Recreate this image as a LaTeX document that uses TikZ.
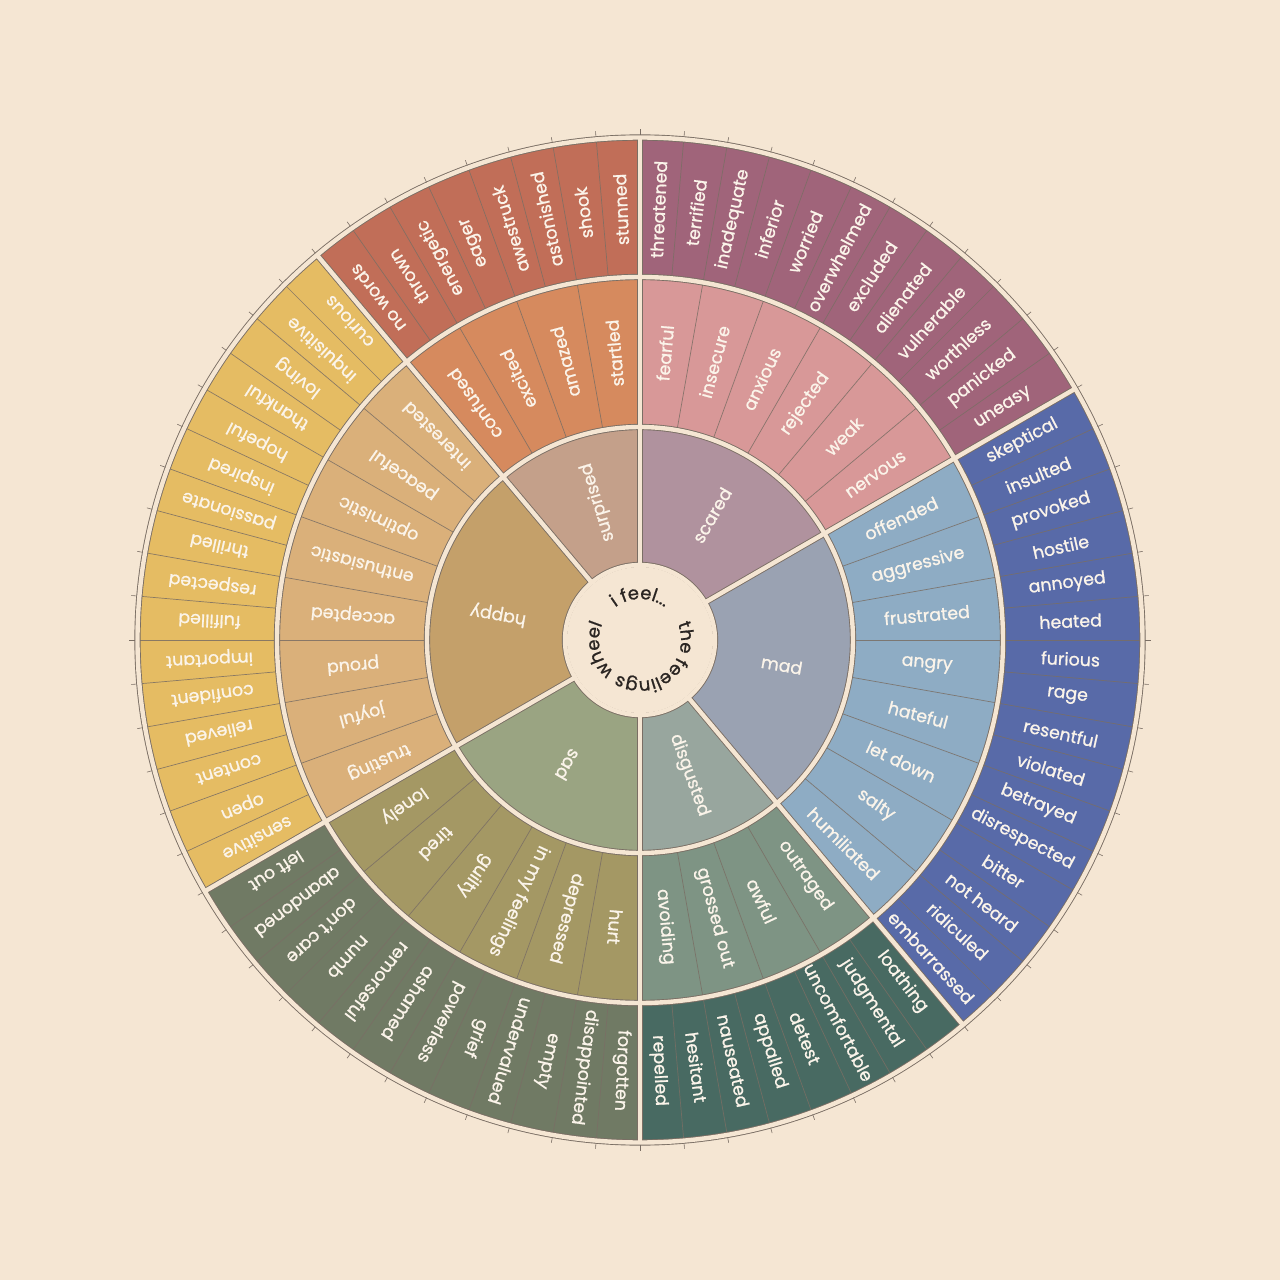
\documentclass[tikz,border=0pt]{standalone}
\usepackage{fontspec}
\setmainfont{Poppins}
\newfontfamily\lblfont{Poppins}[FakeBold=1.0]
\usetikzlibrary{decorations.text}
\definecolor{bg}{HTML}{F5E6D3}
\definecolor{edge}{HTML}{7A6E64}
\definecolor{lab}{HTML}{FBF4EA}
\definecolor{ink}{HTML}{2A2522}
% core / middle / outer colours
\definecolor{suC}{HTML}{C4A08A}\definecolor{suM}{HTML}{D68A5E}\definecolor{suO}{HTML}{C16E58}
\definecolor{scC}{HTML}{B0929E}\definecolor{scM}{HTML}{D89898}\definecolor{scO}{HTML}{A0647A}
\definecolor{maC}{HTML}{9AA2B2}\definecolor{maM}{HTML}{8EACC4}\definecolor{maO}{HTML}{586AA8}
\definecolor{diC}{HTML}{98A69E}\definecolor{diM}{HTML}{7E9484}\definecolor{diO}{HTML}{486A62}
\definecolor{saC}{HTML}{9AA482}\definecolor{saM}{HTML}{A49864}\definecolor{saO}{HTML}{707A64}
\definecolor{haC}{HTML}{C4A06A}\definecolor{haM}{HTML}{DAB07A}\definecolor{haO}{HTML}{E5BC63}
\newcommand\wsect[5]{\fill[#5] (#1:#3) arc[start angle=#1, end angle=#2, radius=#3] -- (#2:#4) arc[start angle=#2, end angle=#1, radius=#4] -- cycle;}
\newcommand\wcat[3]{% start, end, prefix of colours
  \wsect{#1}{#2}{75}{213}{#3C}\wsect{#1}{#2}{213}{363}{#3M}\wsect{#1}{#2}{363}{502.5}{#3O}}
\newcommand\ctext{\fontsize{9}{10}\selectfont\lblfont\color{ink}}
\tikzset{
  lbl/.style={text=lab, font=\fontsize{8.7}{10}\selectfont\lblfont, inner sep=0pt},
  sepline/.style={draw=edge, line width=0.35pt, opacity=0.85},
  gapdark/.style={draw=edge, line width=3.1pt},
  gaplight/.style={draw=bg, line width=2.2pt},
  tickmark/.style={draw=edge, line width=0.3pt}
}
\begin{document}
\begin{tikzpicture}[x=0.5pt,y=0.5pt]
\fill[bg] (-640,-640) rectangle (640,640);
\useasboundingbox (-640,-640) rectangle (640,640);
% sectors
\wcat{90}{130}{su}
\wcat{30}{90}{sc}
\wcat{-50}{30}{ma}
\wcat{-90}{-50}{di}
\wcat{-150}{-90}{sa}
\wcat{130}{210}{ha}
% item separators
\foreach \a in {0,5,...,355} \draw[sepline] (\a:363) -- (\a:502.5);
\foreach \a in {0,10,...,350} \draw[sepline] (\a:213) -- (\a:363);
% gaps: dark edges first
\foreach \a in {90,30,-50,-90,-150,130} \draw[gapdark] (\a:75) -- (\a:502.5);
\foreach \r in {75,213,363,502.5} \draw[gapdark] (0,0) circle[radius=\r];
\foreach \a in {90,30,-50,-90,-150,130} \draw[gaplight] (\a:75) -- (\a:502.5);
\foreach \r in {75,213,363,502.5} \draw[gaplight] (0,0) circle[radius=\r];
\fill[bg] (0,0) circle[radius=73];
% ticks
\foreach \a in {0,5,...,355} \draw[tickmark] (\a:505) -- (\a:510.5);
% centre
\node[inner sep=0pt] (centre) at (0,0) {};
\path[decorate, decoration={text along path, text={|\ctext|i feel...}, text align=center}]
  (170:41) arc[start angle=170, end angle=10, radius=41];
\path[decorate, decoration={text along path, text={|\ctext|the feelings wheel}, text align=center}]
  (35:41) arc[start angle=35, end angle=-215, radius=41];
% core labels
\foreach \a/\t in {107/surprised, 60/scared, -10/mad, -70/disgusted, -120/sad, 170/happy}
  \node[lbl, rotate=\a] (core\t) at (\a:144) {\t};
% middle labels
\foreach \a/\t [count=\i] in {85/fearful, 75/insecure, 65/anxious, 55/rejected, 45/weak, 35/nervous,
  25/offended, 15/aggressive, 5/frustrated, -5/angry, -15/hateful, -25/let down, -35/salty, -45/humiliated,
  -55/outraged, -65/awful, -75/grossed out, -85/avoiding,
  -95/hurt, -105/depressed, -115/in my feelings, -125/guilty, -135/tired, -145/lonely,
  205/trusting, 195/joyful, 185/proud, 175/accepted, 165/enthusiastic, 155/optimistic, 145/peaceful, 135/interested,
  125/confused, 115/excited, 105/amazed, 95/startled}
  \node[lbl, rotate=\a] (mid\i) at (\a:288) {\t};
% outer labels
\foreach \a/\t [count=\i] in {87.5/threatened, 82.5/terrified, 77.5/inadequate, 72.5/inferior, 67.5/worried,
  62.5/overwhelmed, 57.5/excluded, 52.5/alienated, 47.5/vulnerable, 42.5/worthless, 37.5/panicked, 32.5/uneasy,
  27.5/skeptical, 22.5/insulted, 17.5/provoked, 12.5/hostile, 7.5/annoyed, 2.5/heated, -2.5/furious, -7.5/rage,
  -12.5/resentful, -17.5/violated, -22.5/betrayed, -27.5/disrespected, -32.5/bitter, -37.5/not heard,
  -42.5/ridiculed, -47.5/embarrassed,
  -52.5/loathing, -57.5/judgmental, -62.5/uncomfortable, -67.5/detest, -72.5/appalled, -77.5/nauseated,
  -82.5/hesitant, -87.5/repelled,
  -92.5/forgotten, -97.5/disappointed, -102.5/empty, -107.5/undervalued, -112.5/grief, -117.5/powerless,
  -122.5/ashamed, -127.5/remorseful, -132.5/numb, -137.5/don’t care, -142.5/abandoned, -147.5/left out,
  207.5/sensitive, 202.5/open, 197.5/content, 192.5/relieved, 187.5/confident, 182.5/important,
  177.5/fulfilled, 172.5/respected, 167.5/thrilled, 162.5/passionate, 157.5/inspired, 152.5/hopeful,
  147.5/thankful, 142.5/loving, 137.5/inquisitive, 132.5/curious,
  127.5/no words, 122.5/thrown, 117.5/energetic, 112.5/eager, 107.5/awestruck, 102.5/astonished,
  97.5/shook, 92.5/stunned}
  \node[lbl, rotate=\a] (out\i) at (\a:431) {\t};
\end{tikzpicture}
\end{document}
